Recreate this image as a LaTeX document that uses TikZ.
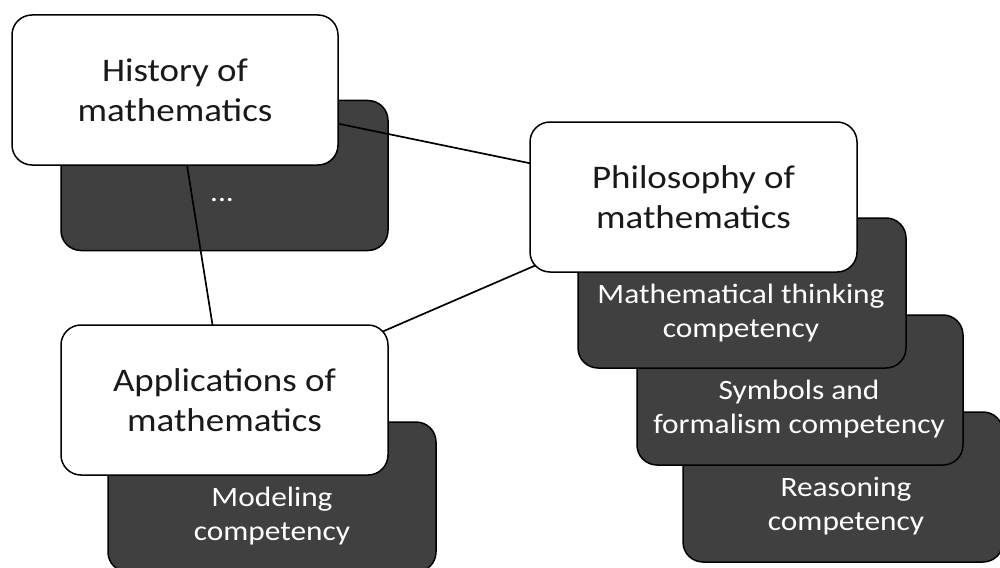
\documentclass[tikz,border=0pt]{standalone}
\usepackage{fontspec}
\setmainfont[FakeStretch=1.12]{Carlito}
\definecolor{darkbox}{RGB}{64,64,64}
\pgfdeclarelayer{darklayer}
\pgfdeclarelayer{linelayer}
\pgfsetlayers{darklayer,linelayer,main}
\tikzset{
  whitebox/.style={draw=black, line width=1.5pt, fill=white, rounded corners=20pt,
    minimum width=326pt, minimum height=150pt, inner sep=0pt, align=center,
    font=\fontsize{33}{40}\selectfont, text=black!90},
  darkbox/.style={draw=black, line width=1.5pt, fill=darkbox, rounded corners=20pt,
    minimum width=327pt, minimum height=150pt, inner sep=0pt},
  darktext/.style={align=center, text=white, inner sep=0pt,
    font=\fontsize{28}{34}\selectfont},
  link/.style={draw=black, line width=1.7pt}
}
\begin{document}
\begin{tikzpicture}[x=1pt,y=-1pt]
\useasboundingbox (0,0) rectangle (1000,567);
\begin{pgfonlayer}{darklayer}
  % stacks of dark boxes (back to front)
  \node[darkbox, minimum width=320pt] (reas) at (843,487) {};
  \node[darktext] (reasT) at (846,506) {Reasoning\\competency};
  \node[darkbox, minimum width=326pt] (sym) at (800,390) {};
  \node[darktext] (symT) at (799,409) {Symbols and\\formalism competency};
  \node[darkbox, minimum width=328pt] (mt) at (742,293) {};
  \node[darktext] (mtT) at (741,313) {Mathematical thinking\\competency};
  \node[darkbox, minimum width=328pt] (mod) at (272,497) {};
  \node[darktext] (modT) at (272,516) {Modeling\\competency};
  \node[darkbox] (hd) at (224.5,175.5) {};
  \node[darktext] (hdT) at (222,200) {...};
\end{pgfonlayer}
\node[whitebox] (hist) at (175,90) {History of\\mathematics};
\node[whitebox, minimum width=327pt] (phil) at (693.5,197) {Philosophy of\\mathematics};
\node[whitebox, minimum width=327pt] (app) at (224.5,400) {Applications of\\mathematics};
\begin{pgfonlayer}{linelayer}
  \draw[link] (hist.center) -- (phil.center);
  \draw[link] (hist.center) -- (app.center);
  \draw[link] (app.center) -- (phil.center);
\end{pgfonlayer}
\end{tikzpicture}
\end{document}
